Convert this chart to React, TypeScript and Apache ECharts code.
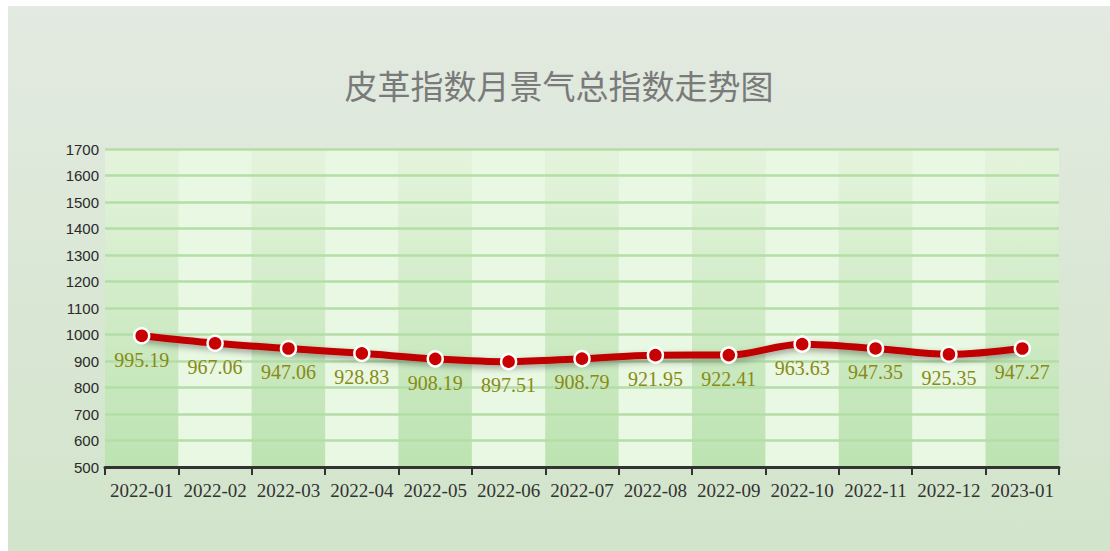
import React, { useEffect, useRef } from "react";
import * as echarts from "echarts";

const categories = [
  "2022-01", "2022-02", "2022-03", "2022-04", "2022-05", "2022-06", "2022-07",
  "2022-08", "2022-09", "2022-10", "2022-11", "2022-12", "2023-01",
];
const values = [
  995.19, 967.06, 947.06, 928.83, 908.19, 897.51, 908.79,
  921.95, 922.41, 963.63, 947.35, 925.35, 947.27,
];
const titleText = "皮革指数月景气总指数走势图";

export default function App() {
  const ref = useRef<HTMLDivElement>(null);
  useEffect(() => {
    if (!ref.current) return;
    const chart = echarts.init(ref.current, undefined, { renderer: "svg" });
    const bandGradient = new echarts.graphic.LinearGradient(0, 0, 0, 1, [
      { offset: 0, color: "#e4f4dc" },
      { offset: 1, color: "#bde3b2" },
    ]);
    chart.setOption({
      animation: false,
      backgroundColor: new echarts.graphic.LinearGradient(0, 0, 0, 1, [
        { offset: 0, color: "#e3eae1" },
        { offset: 1, color: "#d2e4cb" },
      ]),
      title: {
        text: titleText,
        left: "center",
        top: 57,
        textStyle: {
          color: "#7a7a7a",
          fontSize: 33,
          fontWeight: "normal",
          fontFamily: "Noto Sans CJK SC",
        },
      },
      grid: { left: 97, right: 51, top: 143, bottom: 84 },
      xAxis: {
        type: "category",
        data: categories,
        boundaryGap: true,
        z: 0,
        axisLine: { lineStyle: { color: "#333", width: 3 } },
        axisTick: { show: true, length: 8, lineStyle: { color: "#333", width: 2 } },
        axisLabel: {
          color: "#333",
          fontSize: 19,
          fontFamily: "Liberation Serif",
          margin: 14,
          interval: 0,
        },
        splitArea: {
          show: true,
          interval: 0,
          areaStyle: { color: [bandGradient, "#e8f8e2"] },
        },
      },
      yAxis: {
        type: "value",
        min: 500,
        max: 1700,
        interval: 100,
        z: 1,
        axisLine: { show: false },
        axisTick: { show: false },
        axisLabel: {
          color: "#2a2a2a",
          fontSize: 15,
          fontFamily: "Liberation Sans",
          margin: 6,
          formatter: (v: number) => String(v),
        },
        splitLine: {
          showMinLine: false,
          lineStyle: { color: "#b3dea6", width: 2.5 },
        },
      },
      series: [
        {
          type: "line",
          data: values,
          smooth: 0.35,
          symbol: "circle",
          symbolSize: 15,
          z: 5,
          lineStyle: {
            color: "#c00000",
            width: 7,
            shadowColor: "rgba(0,0,0,0.35)",
            shadowBlur: 6,
            shadowOffsetY: 3,
          },
          itemStyle: {
            color: "#c80000",
            borderColor: "#ffffff",
            borderWidth: 2.5,
          },
          label: {
            show: true,
            position: "bottom",
            distance: 5,
            color: "#8a8a14",
            fontSize: 20,
            fontFamily: "Liberation Serif",
            formatter: (p: any) => Number(p.value).toFixed(2),
          },
        },
      ],
    });
    return () => chart.dispose();
  }, []);
  return (
    <div
      ref={ref}
      style={{ position: "absolute", left: 8, top: 6, width: 1102, height: 545 }}
    />
  );
}
